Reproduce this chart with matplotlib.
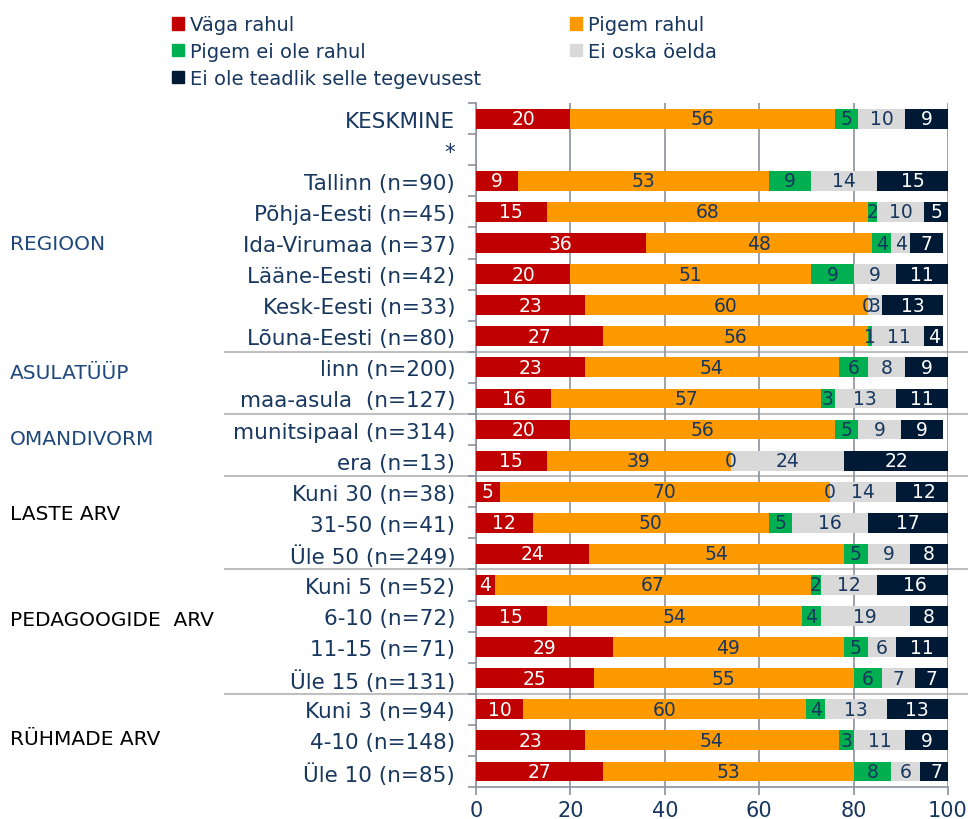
import numpy as np
import matplotlib.pyplot as plt
from matplotlib.patches import Patch
from matplotlib.lines import Line2D
from matplotlib.transforms import blended_transform_factory

# vastuste jaotus (%) rühmade kaupa
categories = ["KESKMINE", "*",
              "Tallinn (n=90)", "Põhja-Eesti (n=45)", "Ida-Virumaa (n=37)",
              "Lääne-Eesti (n=42)", "Kesk-Eesti (n=33)", "Lõuna-Eesti (n=80)",
              "linn (n=200)", "maa-asula  (n=127)",
              "munitsipaal (n=314)", "era (n=13)",
              "Kuni 30 (n=38)", "31-50 (n=41)", "Üle 50 (n=249)",
              "Kuni 5 (n=52)", "6-10 (n=72)", "11-15 (n=71)", "Üle 15 (n=131)",
              "Kuni 3 (n=94)", "4-10 (n=148)", "Üle 10 (n=85)"]

vaga_rahul = [20, None, 9, 15, 36, 20, 23, 27, 23, 16, 20, 15, 5, 12, 24, 4, 15, 29, 25, 10, 23, 27]
pigem_rahul = [56, None, 53, 68, 48, 51, 60, 56, 54, 57, 56, 39, 70, 50, 54, 67, 54, 49, 55, 60, 54, 53]
pigem_ei_ole = [5, None, 9, 2, 4, 9, 0, 1, 6, 3, 5, 0, 0, 5, 5, 2, 4, 5, 6, 4, 3, 8]
ei_oska = [10, None, 14, 10, 4, 9, 3, 11, 8, 13, 9, 24, 14, 16, 9, 12, 19, 6, 7, 13, 11, 6]
ei_teadlik = [9, None, 15, 5, 7, 11, 13, 4, 9, 11, 9, 22, 12, 17, 8, 16, 8, 11, 7, 13, 9, 7]

series_names = ["Väga rahul", "Pigem rahul", "Pigem ei ole rahul",
                "Ei oska öelda", "Ei ole teadlik selle tegevusest"]
series = [vaga_rahul, pigem_rahul, pigem_ei_ole, ei_oska, ei_teadlik]
colors = ["#C00000", "#FF9900", "#00B050", "#D9D9D9", "#001A35"]
text_colors = ["white", "#17375E", "#17375E", "#17375E", "white"]

groups = ["REGIOON", "ASULATÜÜP", "OMANDIVORM", "LASTE ARV", "PEDAGOOGIDE  ARV", "RÜHMADE ARV"]
group_rows = [4, 8.15, 10.3, 12.7, 16.1, 19.95]
group_colors = ["#1F497D", "#1F497D", "#1F497D", "black", "black", "black"]
separators = [7.5, 9.5, 11.5, 14.5, 18.5]

navy = "#17375E"
grid_col = "#8C90A0"

fig = plt.figure(figsize=(9.68, 8.2), dpi=100)
ax = fig.add_axes([0.4917, 0.039, 0.4876, 0.834])

y = np.arange(len(categories))
left = np.zeros(len(categories))
for vals, name, col, tcol in zip(series, series_names, colors, text_colors):
    v = np.array([np.nan if x is None else x for x in vals], dtype=float)
    ax.barh(y, np.nan_to_num(v), left=left, height=0.64, color=col, label=name, zorder=3)
    for i, val in enumerate(v):
        if np.isnan(val):
            continue
        ax.text(left[i] + val / 2, y[i], f"{int(val)}", ha="center", va="center",
                fontsize=13.5, color=tcol, zorder=4)
    left += np.nan_to_num(v)

ax.set_xlim(0, 100)
ax.set_ylim(len(categories) - 0.5, -0.5)
ax.set_xticks(np.arange(0, 101, 20))
ax.set_yticks(y)
ax.set_yticklabels(categories, fontsize=15.5, color=navy)
ax.set_yticks(np.arange(-0.5, len(categories), 1), minor=True)
ax.tick_params(axis="y", which="major", length=0, pad=15)
ax.tick_params(axis="y", which="minor", length=6, color=grid_col, width=1.2)
ax.tick_params(axis="x", length=6, color=grid_col, width=1.2, labelsize=15,
               labelcolor=navy, pad=3)
ax.xaxis.grid(True, color=grid_col, linewidth=1.2, zorder=0)
for side in ["top", "right"]:
    ax.spines[side].set_visible(False)
for side in ["left", "bottom"]:
    ax.spines[side].set_color(grid_col)
    ax.spines[side].set_linewidth(1.2)

# rühmade eraldusjooned ja pealkirjad
trans = blended_transform_factory(fig.transFigure, ax.transData)
for s in separators:
    ax.add_line(Line2D([0.232, 1.0], [s, s], transform=trans, color="#BFBFBF",
                       linewidth=1.5, clip_on=False, zorder=1))
for g, r, c in zip(groups, group_rows, group_colors):
    ax.text(0.010, r, g, transform=trans, fontsize=14.5, color=c, va="center", ha="left")

handles = [Patch(color=c) for c in colors]
order = [0, 2, 4, 1, 3]
fig.legend([handles[i] for i in order], [series_names[i] for i in order],
           loc="upper left", bbox_to_anchor=(0.1777, 0.980), ncol=2, frameon=False,
           fontsize=14, labelcolor=navy, handlelength=0.6, handleheight=0.6,
           handletextpad=0.3, columnspacing=4.6, labelspacing=0.4,
           borderaxespad=0, borderpad=0)

fig.savefig("out.png", dpi=100)
